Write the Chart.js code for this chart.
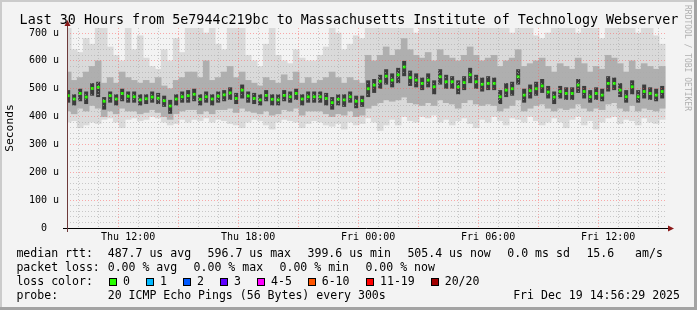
<!DOCTYPE html>
<html>
<head>
<meta charset="utf-8">
<script src="https://cdn.jsdelivr.net/npm/chart.js@4/dist/chart.umd.min.js"></script>
<style>
  body { margin: 0; background: #f3f3f3; }
  #wrap { position: relative; width: 697px; height: 310px; overflow: hidden; background: #f3f3f3;
          font-family: "DejaVu Sans Mono", monospace; }
  canvas { position: absolute; left: 0; top: 0; }
  .t { position: absolute; white-space: pre; line-height: 1; color: #000; font-size: 11.56px; }
  .box { position: absolute; width: 6px; height: 6px; border: 1px solid #000; }
  .edge { position: absolute; }
</style>
</head>
<body>
<div id="wrap">
  <canvas id="myChart" width="697" height="310"></canvas>
  <div id="legend"></div>
  <div class="edge" style="left:0;top:0;width:697px;height:2px;background:#cbcbcb"></div>
  <div class="edge" style="left:0;top:0;width:2px;height:310px;background:#cbcbcb"></div>
  <div class="edge" style="right:0;top:0;width:3px;height:310px;background:#a3a3a3"></div>
  <div class="edge" style="left:0;bottom:0;width:697px;height:3px;background:#a3a3a3"></div>
</div>
<script>
// sample times, hours since Thu 00:00
const times = [
  9.0, 9.3, 9.6, 9.9, 10.2, 10.5, 10.8, 11.1, 11.4, 11.7,
  12.0, 12.3, 12.6, 12.9, 13.2, 13.5, 13.8, 14.1, 14.4, 14.7,
  15.0, 15.3, 15.6, 15.9, 16.2, 16.5, 16.8, 17.1, 17.4, 17.7,
  18.0, 18.3, 18.6, 18.9, 19.2, 19.5, 19.8, 20.1, 20.4, 20.7,
  21.0, 21.3, 21.6, 21.9, 22.2, 22.5, 22.8, 23.1, 23.4, 23.7,
  24.0, 24.3, 24.6, 24.9, 25.2, 25.5, 25.8, 26.1, 26.4, 26.7,
  27.0, 27.3, 27.6, 27.9, 28.2, 28.5, 28.8, 29.1, 29.4, 29.7,
  30.0, 30.3, 30.6, 30.9, 31.2, 31.5, 31.8, 32.1, 32.4, 32.7,
  33.0, 33.3, 33.6, 33.9, 34.2, 34.5, 34.8, 35.1, 35.4, 35.7,
  36.0, 36.3, 36.6, 36.9, 37.2, 37.5, 37.8, 38.1, 38.4, 38.7,
];

// median rtt (us)
const median = [
  475, 463, 483, 470, 501, 505, 455, 475, 463, 483,
  473, 471, 460, 464, 470, 466, 457, 438, 463, 471,
  475, 480, 462, 471, 463, 473, 478, 485, 465, 495,
  474, 465, 460, 476, 462, 460, 476, 471, 483, 463,
  471, 471, 471, 465, 450, 462, 460, 471, 455, 457,
  500, 513, 527, 545, 531, 550, 578, 540, 531, 519,
  531, 507, 543, 525, 525, 507, 522, 550, 525, 516,
  519, 519, 471, 495, 500, 543, 477, 493, 500, 510,
  488, 470, 490, 483, 483, 513, 490, 471, 483, 477,
  519, 519, 495, 471, 507, 471, 490, 483, 477, 490,
];

// smoke: outer (light) band
const smokeHi = [
  718, 640, 630, 680, 660, 718, 718, 650, 620, 600,
  718, 640, 690, 610, 580, 570, 640, 600, 680, 630,
  718, 718, 718, 700, 718, 660, 640, 718, 718, 718,
  620, 600, 580, 660, 718, 620, 600, 590, 640, 610,
  600, 600, 620, 650, 718, 700, 640, 660, 690, 680,
  718, 718, 718, 718, 718, 718, 718, 718, 700, 718,
  718, 718, 718, 718, 718, 718, 718, 718, 718, 718,
  718, 718, 718, 718, 700, 718, 718, 718, 690, 680,
  700, 718, 718, 718, 718, 700, 718, 718, 718, 680,
  718, 718, 718, 718, 718, 700, 718, 718, 690, 660,
];
const smokeLo = [
  380, 385, 360, 370, 380, 375, 390, 395, 380, 360,
  390, 395, 385, 390, 400, 395, 380, 370, 375, 390,
  380, 390, 385, 395, 380, 390, 385, 375, 370, 360,
  380, 390, 385, 370, 355, 380, 390, 385, 380, 360,
  375, 385, 380, 370, 365, 375, 355, 380, 370, 375,
  395, 380, 350, 370, 390, 370, 400, 385, 380, 400,
  395, 405, 380, 390, 370, 385, 395, 375, 360, 390,
  380, 400, 385, 370, 395, 390, 380, 400, 385, 370,
  380, 395, 380, 360, 390, 400, 370, 385, 355, 380,
  395, 400, 375, 390, 385, 370, 395, 380, 375, 390,
];

// smoke: middle band
const innerHi = [
  560, 530, 540, 560, 580, 600, 520, 540, 520, 560,
  540, 530, 520, 530, 520, 540, 510, 500, 530, 540,
  560, 560, 540, 600, 530, 540, 560, 580, 540, 560,
  530, 520, 510, 540, 530, 520, 550, 530, 560, 520,
  540, 520, 530, 540, 560, 540, 520, 540, 530, 520,
  620, 600, 620, 650, 620, 640, 680, 640, 620, 610,
  630, 600, 640, 620, 610, 600, 620, 650, 620, 600,
  610, 620, 580, 600, 610, 640, 580, 590, 600, 610,
  580, 560, 590, 580, 570, 610, 590, 560, 580, 570,
  620, 610, 590, 560, 600, 570, 590, 580, 570, 580,
];
const innerLo = [
  420, 410, 430, 420, 440, 430, 400, 420, 410, 430,
  420, 420, 410, 415, 425, 415, 400, 390, 410, 420,
  425, 425, 410, 420, 410, 425, 425, 430, 415, 430,
  420, 415, 410, 420, 405, 410, 425, 420, 430, 405,
  420, 420, 420, 410, 400, 410, 405, 420, 400, 405,
  430, 440, 450, 460, 455, 460, 470, 450, 445, 440,
  450, 440, 460, 450, 445, 430, 450, 460, 445, 440,
  445, 440, 420, 430, 440, 460, 420, 430, 440, 445,
  430, 420, 430, 425, 430, 445, 430, 420, 430, 425,
  445, 450, 430, 420, 440, 420, 430, 425, 420, 430,
];

// smoke: dark core
const coreHi = [
  495, 480, 500, 490, 520, 525, 470, 490, 480, 500,
  490, 490, 480, 480, 490, 485, 475, 460, 480, 490,
  495, 500, 480, 490, 480, 490, 495, 505, 485, 515,
  490, 485, 480, 495, 480, 480, 495, 490, 500, 480,
  490, 490, 490, 485, 470, 480, 480, 490, 475, 475,
  530, 535, 550, 570, 555, 575, 600, 565, 555, 540,
  555, 530, 570, 550, 545, 530, 545, 575, 550, 540,
  545, 540, 495, 520, 525, 570, 500, 515, 525, 535,
  510, 490, 510, 505, 505, 535, 510, 495, 505, 500,
  545, 540, 520, 495, 530, 495, 515, 505, 500, 510,
];
const coreLo = [
  450, 440, 455, 445, 475, 470, 425, 450, 440, 455,
  450, 450, 440, 445, 450, 445, 435, 410, 440, 450,
  450, 455, 440, 450, 440, 450, 455, 460, 445, 465,
  450, 445, 440, 455, 440, 440, 455, 450, 460, 440,
  450, 450, 450, 440, 425, 440, 435, 450, 430, 435,
  470, 485, 500, 515, 505, 520, 545, 510, 505, 495,
  505, 480, 515, 500, 500, 480, 495, 520, 500, 490,
  495, 495, 445, 470, 475, 515, 450, 465, 475, 485,
  465, 445, 465, 460, 460, 485, 465, 450, 460, 455,
  490, 495, 470, 450, 480, 450, 465, 460, 455, 465,
];

const startHour = 8.9414;   // Thu 08:56:29
const endHour = 38.9414;    // Fri 14:56:29
const yMax = 718;

const hourTicks = [9, 10, 11, 12, 13, 14, 15, 16, 17, 18, 19, 20, 21, 22, 23, 24,
  25, 26, 27, 28, 29, 30, 31, 32, 33, 34, 35, 36, 37, 38];
const labelHours = [12, 18, 24, 30, 36];
const labelTexts = ["Thu 12:00", "Thu 18:00", "Fri 00:00", "Fri 06:00", "Fri 12:00"];
const yTicks = [0, 20, 40, 60, 80, 100, 120, 140, 160, 180, 200, 220, 240, 260, 280, 300, 320,
  340, 360, 380, 400, 420, 440, 460, 480, 500, 520, 540, 560, 580, 600, 620, 640, 660, 680, 700];

const title = "Last 30 Hours from 5e7944c219bc to Massachusetts Institute of Technology Webserver";
const rttStats = ["487.7 us avg", "596.7 us max", "399.6 us min", "505.4 us now", "0.0 ms sd", "15.6   am/s"];
const lossStats = ["0.00 % avg", "0.00 % max", "0.00 % min", "0.00 % now"];
const lossLabels = ["0", "1", "2", "3", "4-5", "6-10", "11-19", "20/20"];
const lossColors = ["#26ff00", "#00b8ff", "#0059ff", "#5e00ff", "#ff00ff", "#ff5500", "#ff0000", "#a10000"];
const probeText = "20 ICMP Echo Pings (56 Bytes) every 300s";
const stampText = "Fri Dec 19 14:56:29 2025";

const MAJOR = "rgba(255,91,91,0.5)";
const MINOR = "rgba(170,170,170,0.6)";

// ---- text around the graph ----
const wrap = document.getElementById("legend");
function addText(txt, left, top, extra)
{
  const d = document.createElement("div");
  d.className = "t";
  d.textContent = txt;
  d.style.left = left + "px";
  d.style.top = top + "px";
  if (extra)
    Object.assign(d.style, extra);
  wrap.appendChild(d);
  return d;
}

addText(title, 349, 12.6, {fontSize: "13.35px", transform: "translateX(-50%)"});
addText("Seconds", 10, 128, {fontSize: "11.3px", transform: "translate(-50%,-50%) rotate(-90deg)"});
addText("RRDTOOL / TOBI OETIKER", 683, 5, {fontSize: "8px", color: "#b0b0b0", writingMode: "vertical-rl"});

const rowTop = [248.4, 262.4, 276.4, 290.4];
addText("median rtt:", 16.4, rowTop[0]);
[107.7, 207.6, 307.5, 407.4, 507.3, 586.4].forEach((x, i) => addText(rttStats[i], x, rowTop[0]));
addText("packet loss:", 16.4, rowTop[1]);
[107.7, 193.6, 279.5, 365.4].forEach((x, i) => addText(lossStats[i], x, rowTop[1]));
addText("loss color:", 16.4, rowTop[2]);
[109, 146, 183, 220, 257, 307.7, 366, 430.7].forEach((x, i) => {
  const b = document.createElement("div");
  b.className = "box";
  b.style.left = x + "px";
  b.style.top = "278px";
  b.style.background = lossColors[i];
  wrap.appendChild(b);
  addText(lossLabels[i], x + 14, rowTop[2]);
});
addText("probe:", 16.4, rowTop[3]);
addText(probeText, 107.7, rowTop[3]);
addText(stampText, 0, rowTop[3], {left: "auto", right: "17px"});

// ---- axis lines and arrows ----
const axisLines = {
  id: "axisLines",
  afterDraw(chart)
  {
    const {ctx, chartArea: a} = chart;
    ctx.save();
    ctx.lineWidth = 1;
    ctx.strokeStyle = "#000";
    ctx.beginPath();
    ctx.moveTo(a.left - 4, a.bottom + 0.5);
    ctx.lineTo(a.right + 3, a.bottom + 0.5);
    ctx.stroke();
    ctx.strokeStyle = "#6e3a3a";
    ctx.beginPath();
    ctx.moveTo(a.left + 0.5, a.bottom + 4);
    ctx.lineTo(a.left + 0.5, a.top - 3);
    ctx.stroke();
    ctx.fillStyle = "#8b1a1a";
    ctx.beginPath();
    ctx.moveTo(a.right + 1, a.bottom - 2.5);
    ctx.lineTo(a.right + 7, a.bottom + 0.5);
    ctx.lineTo(a.right + 1, a.bottom + 3.5);
    ctx.fill();
    ctx.beginPath();
    ctx.moveTo(a.left - 2.5, a.top - 2);
    ctx.lineTo(a.left + 0.5, a.top - 8);
    ctx.lineTo(a.left + 3.5, a.top - 2);
    ctx.fill();
    ctx.restore();
  },
};

const band = (lo, hi) => lo.map((v, i) => [v, hi[i]]);
const barStyle = {type: "bar", grouped: false, categoryPercentage: 1, borderWidth: 0};

const data = {
  labels: times,
  datasets: [
    {type: "line", label: "median", data: median, showLine: false, pointStyle: "rect",
      pointRadius: 2, pointBackgroundColor: "#26ff00", pointBorderWidth: 0, order: 0},
    {...barStyle, label: "core", data: band(coreLo, coreHi), barPercentage: 0.67,
      backgroundColor: "#3c3c3c", order: 1},
    {...barStyle, label: "inner", data: band(innerLo, innerHi), barPercentage: 1,
      backgroundColor: "#afafaf", order: 2},
    {...barStyle, label: "outer", data: band(smokeLo, smokeHi), barPercentage: 1,
      backgroundColor: "#dadada", order: 3},
  ],
};

const tickFont = {family: "DejaVu Sans Mono", size: 10};

new Chart(document.getElementById("myChart"), {
  type: "bar",
  data: data,
  plugins: [axisLines],
  options: {
    responsive: false,
    animation: false,
    devicePixelRatio: 1,
    layout: {padding: {left: 0, top: 28, right: 30, bottom: 0}},
    plugins: {
      legend: {display: false},
      title: {display: false},
      tooltip: {enabled: false},
    },
    scales: {
      x: {
        type: "linear",
        min: startHour,
        max: endHour,
        offset: false,
        afterBuildTicks: s => { s.ticks = hourTicks.map(v => ({value: v})); },
        afterFit: s => { s.height = 82; },
        grid: {z: 1, drawTicks: false, lineWidth: 1,
          color: c => (c.tick && c.tick.value % 3 === 0) ? MAJOR : MINOR},
        border: {display: false, dash: [1, 2]},
        ticks: {autoSkip: false, maxRotation: 0, padding: 3, color: "#000", font: tickFont,
          callback: v => { const k = labelHours.indexOf(v); return k < 0 ? "" : labelTexts[k]; }},
      },
      y: {
        min: 0,
        max: yMax,
        afterBuildTicks: s => { s.ticks = yTicks.map(v => ({value: v})); },
        afterFit: s => { s.width = 67; },
        grid: {z: 1, drawTicks: false, lineWidth: 1,
          color: c => (c.tick && c.tick.value % 100 === 0 && c.tick.value > 0) ? MAJOR : MINOR},
        border: {display: false, dash: [1, 2]},
        ticks: {autoSkip: false, padding: 8, color: "#000", font: tickFont,
          callback: v => v % 100 !== 0 ? "" : (v === 0 ? "0  " : v + " u")},
      },
    },
  },
});
</script>
</body>
</html>
